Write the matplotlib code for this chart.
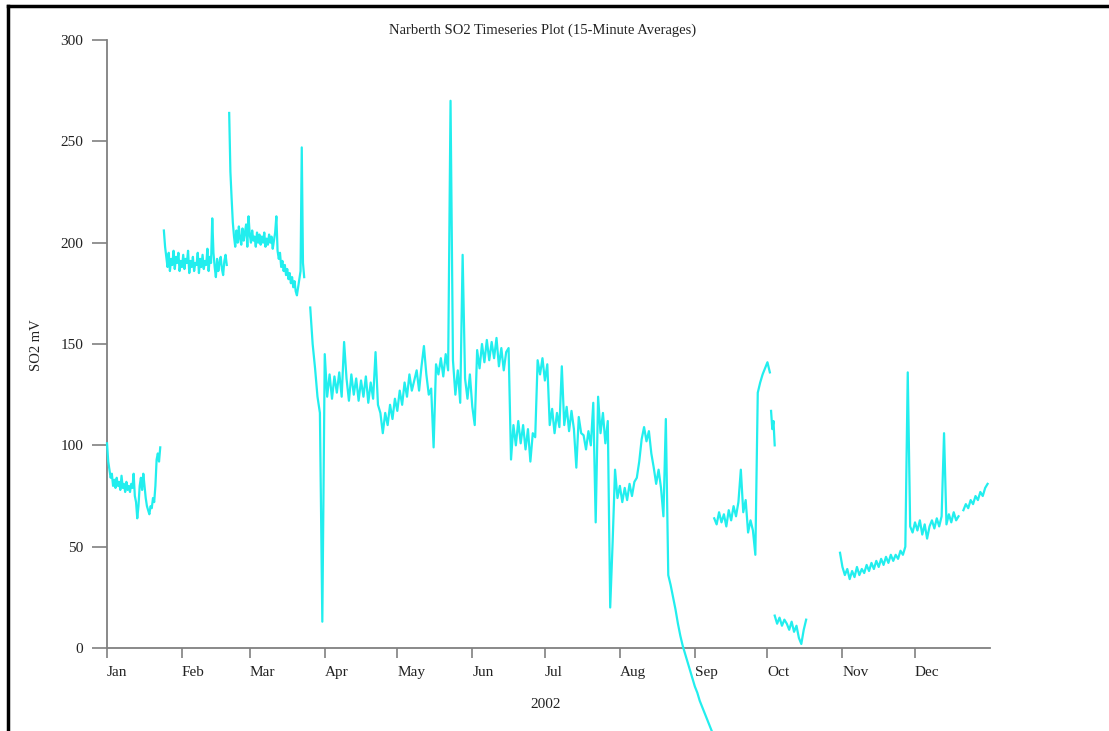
import matplotlib
matplotlib.use("Agg")
import matplotlib.pyplot as plt
import matplotlib.dates as mdates
from matplotlib.lines import Line2D
import numpy as np
import pandas as pd

plt.rcParams['font.family'] = ['Liberation Serif', 'DejaVu Serif']

# SO2 readings (mV), one list per unbroken stretch of logging
so2_jan = [101, 92, 88, 84, 86, 80, 83, 79, 84, 80, 82, 78, 85, 79, 81, 77,
           82, 78, 80, 77, 81, 79, 86, 75, 72, 64, 70, 80, 84, 78, 86, 80,
           74, 70, 68, 66, 70, 69, 74, 72, 80, 93, 96, 92, 99]
so2_feb = [206, 198, 193, 188, 195, 186, 192, 189, 196, 187, 193, 190, 195,
           186, 191, 188, 194, 187, 192, 190, 196, 185, 191, 188, 193, 186,
           190, 189, 195, 185, 192, 188, 194, 187, 191, 189, 197, 186, 193,
           190, 212, 195, 188, 183, 192, 186, 190, 193, 187, 184, 191, 194, 189]
so2_mar = [264, 235, 222, 210, 203, 198, 206, 200, 208, 202, 199, 207, 201,
           205, 209, 198, 213, 204, 200, 206, 201, 203, 198, 205, 200, 204,
           199, 203, 200, 205, 198, 202, 199, 204, 200, 203, 197, 201, 205,
           213, 196, 192, 195, 188, 191, 186, 189, 184, 187, 182, 185, 180,
           183, 178, 181, 176, 174, 178, 182, 186, 247, 190, 183]
so2_apr_sep = [168, 150, 138, 124, 116, 13, 145, 124, 135, 123,
               134, 126, 136, 124, 151, 133, 122, 135, 125, 133,
               122, 132, 124, 134, 121, 131, 123, 146, 120, 116,
               106, 116, 110, 120, 113, 123, 117, 127, 120, 131,
               124, 135, 127, 132, 137, 127, 139, 149, 135, 125,
               128, 99, 140, 135, 143, 134, 145, 137, 270, 142,
               125, 137, 121, 194, 133, 123, 135, 119, 110, 147,
               138, 150, 141, 152, 142, 151, 143, 153, 139, 148,
               137, 146, 148, 93, 110, 100, 112, 101, 110, 98,
               108, 92, 106, 104, 142, 135, 143, 132, 140, 110,
               118, 106, 116, 109, 139, 110, 119, 107, 117, 108,
               89, 114, 106, 105, 98, 107, 100, 121, 62, 124,
               106, 116, 101, 112, 20, 52, 88, 74, 80, 72,
               79, 73, 81, 75, 82, 84, 92, 103, 109, 102,
               107, 96, 89, 81, 88, 79, 65, 113, 36, 31,
               25, 19, 12, 6, 1, -3, -7, -11, -15, -19,
               -22, -26, -29, -32, -35, -38, -41, -44, -47, -50]
so2_sep = [64, 61, 67, 62, 66, 60, 68, 63, 70, 65, 72, 88, 67, 73, 57, 63,
           58, 46, 126, 131, 135, 138, 141, 136]
so2_oct_a = [117, 108, 112, 100]
so2_oct_b = [16, 12, 15, 11, 14, 12, 9, 13, 8, 11, 5, 2, 9, 14]
so2_nov_dec = [47, 40, 36, 39, 34, 38, 35, 40, 36, 39, 37, 41, 38, 42, 39,
               43, 40, 44, 41, 45, 42, 46, 43, 46, 44, 48, 46, 50, 136, 60,
               57, 62, 58, 63, 56, 61, 54, 60, 63, 59, 64, 60, 65, 106, 61,
               66, 62, 67, 63, 65]
so2_dec_end = [68, 71, 69, 73, 71, 75, 73, 77, 75, 79, 81]

series = [so2_jan, so2_feb, so2_mar, so2_apr_sep, so2_sep,
          so2_oct_a, so2_oct_b, so2_nov_dec, so2_dec_end]
start_day = [0.0, 23.5, 50.5, 84.0, 251.0, 274.5, 276.0, 303.0, 354.0]
step_day = [0.5, 0.5, 0.5, 1.0, 1.0, 0.5, 1.0, 1.0, 1.0]

t0 = pd.Timestamp('2002-01-01')
month_starts = pd.date_range('2002-01-01', periods=12, freq='MS')

fig = plt.figure(figsize=(11.09, 7.31), dpi=100)
ax = fig.add_axes([0.0965, 0.1135, 0.7962, 0.8318])

for vals, d0, dd in zip(series, start_day, step_day):
    days = d0 + dd * np.arange(len(vals))
    t = t0 + pd.to_timedelta(days, unit='D')
    ax.plot(t, vals, color='#22eeee', lw=1.6, clip_on=False, zorder=3)

ax.set_xlim(t0, pd.Timestamp('2003-01-01'))
ax.set_ylim(0, 300)
ax.set_yticks([0, 50, 100, 150, 200, 250, 300])

ax.set_xticks(month_starts)
ax.xaxis.set_major_formatter(mdates.DateFormatter('%b'))
for lbl in ax.get_xticklabels():
    lbl.set_horizontalalignment('left')

for s in ['top', 'right']:
    ax.spines[s].set_visible(False)
for s in ['left', 'bottom']:
    ax.spines[s].set_color('#808080')
    ax.spines[s].set_linewidth(1.3)

ax.tick_params(axis='y', direction='out', length=11, width=1.2,
               color='#808080', labelsize=11, labelcolor='#222222', pad=6)
ax.tick_params(axis='x', direction='out', length=7, width=1.2,
               color='#808080', labelsize=11, labelcolor='#222222', pad=6)

fig.text(543 / 1109, 1 - 30 / 731, 'Narberth SO2 Timeseries Plot (15-Minute Averages)',
         ha='center', va='center', fontsize=10.5, color='#222222')
fig.text(36 / 1109, 1 - 345 / 731, 'SO2 mV', rotation=90,
         ha='center', va='center', fontsize=10.5, color='#222222')
fig.text(546 / 1109, 1 - 705 / 731, '2002',
         ha='center', va='center', fontsize=11, color='#222222')

# border on the left and top edges of the page
fig.add_artist(Line2D([8 / 1109, 8 / 1109], [0, 1 - 6 / 731],
                      transform=fig.transFigure, color='black', lw=2.5))
fig.add_artist(Line2D([8 / 1109, 1], [1 - 6 / 731, 1 - 6 / 731],
                      transform=fig.transFigure, color='black', lw=2.5))

fig.savefig('out.png', dpi=100)
